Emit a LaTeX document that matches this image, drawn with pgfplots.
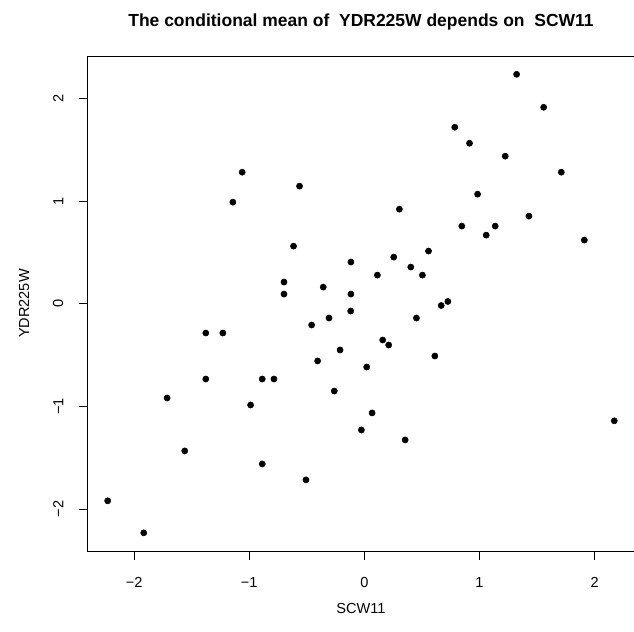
\documentclass[border=0pt]{standalone}
\usepackage{pgfplots}
\pgfplotsset{compat=1.18}
\usepackage{fontspec}
\setmainfont{Liberation Sans}
\pgfplotstableread{
x y
-1.061 1.281
-0.563 1.145
-1.142 0.989
-0.615 0.561
-0.117 0.406
-0.698 0.211
-0.357 0.162
-0.698 0.094
-0.117 0.094
1.322 2.234
1.557 1.913
0.785 1.719
0.913 1.563
1.223 1.437
1.710 1.281
0.983 1.067
0.304 0.921
1.429 0.853
0.846 0.756
1.136 0.756
1.058 0.668
1.910 0.620
0.557 0.513
0.255 0.454
0.113 0.279
0.403 0.357
0.504 0.279
0.725 0.022
0.667 -0.017
-1.377 -0.285
-1.229 -0.285
-0.458 -0.207
-0.307 -0.139
-0.119 -0.071
-0.211 -0.450
-0.406 -0.557
-1.377 -0.733
-0.887 -0.733
-0.785 -0.733
-0.261 -0.850
-1.713 -0.918
-0.988 -0.986
-1.560 -1.433
-0.887 -1.560
-0.507 -1.715
-2.229 -1.919
-1.916 -2.231
0.452 -0.139
0.159 -0.353
0.211 -0.402
0.612 -0.509
0.020 -0.616
0.067 -1.063
-0.026 -1.229
0.354 -1.326
2.170 -1.140
}\pts
\usepackage{pgfplotstable}
\begin{document}
\begin{tikzpicture}
\begin{axis}[
  name=ax,
  scale only axis,
  width=410pt, height=371pt,
  xmin=-2.405, xmax=2.346, ymin=-2.409, ymax=2.412,
  axis line style={black, line width=0.75pt},
  tick align=outside,
  tick pos=left,
  major tick length=6.6pt,
  every tick/.style={black, line width=0.75pt},
  xtick={-2,-1,0,1,2}, xticklabels={−2,−1,0,1,2},
  ytick={-2,-1,0,1,2}, yticklabels={−2,−1,0,1,2},
  tick label style={font=\fontsize{10.9}{13}\selectfont},
  xticklabel style={anchor=north, inner sep=0pt},
  xticklabel shift=13.2pt,
  yticklabel style={rotate=90, anchor=south, inner sep=0pt},
  yticklabel shift=11.2pt,
  clip=false,
]
\addplot[only marks, mark=*, mark size=2.3pt, mark options={draw=black, fill=black}] table[x=x, y=y] {\pts};
\end{axis}
\node[font=\bfseries\fontsize{13.1}{15}\selectfont] at ([yshift=25.5pt]ax.north) {The conditional mean of\ \ YDR225W depends on\ \ SCW11};
\node[font=\fontsize{10.9}{13}\selectfont] at ([yshift=-42.7pt]ax.south) {SCW11};
\node[font=\fontsize{10.9}{13}\selectfont, rotate=90] at ([xshift=-47.5pt]ax.west) {YDR225W};
\pgfresetboundingbox
\path[use as bounding box] ([xshift=-65.5pt,yshift=-60.2pt]ax.south west) rectangle ([xshift=-0.4pt,yshift=42pt]ax.north east);
\end{tikzpicture}
\end{document}
